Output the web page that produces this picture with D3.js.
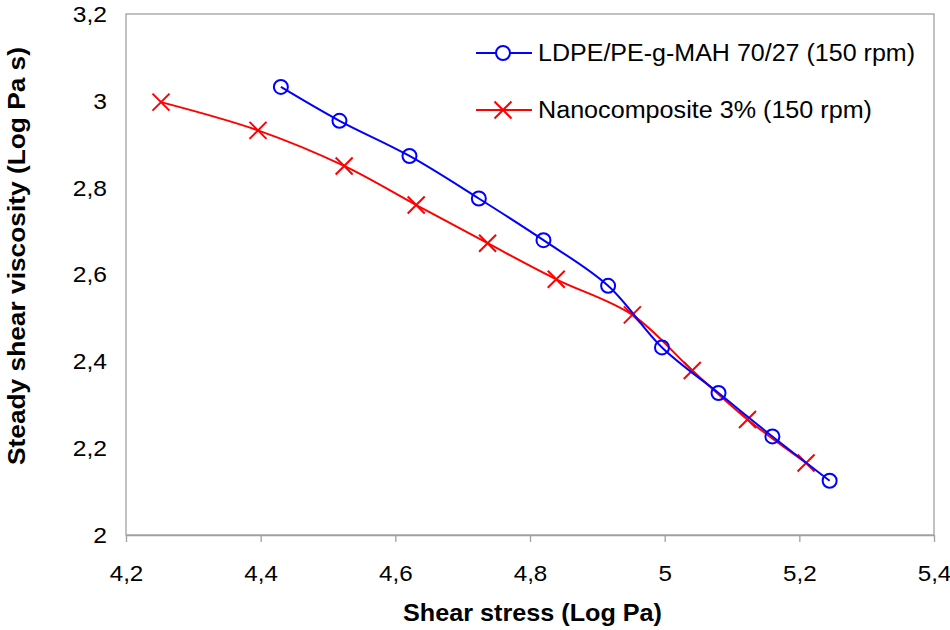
<!DOCTYPE html>
<html>
<head>
<meta charset="utf-8">
<script src="https://cdn.jsdelivr.net/npm/d3@7"></script>
<style>
  html, body { margin: 0; padding: 0; background: #fff; }
  svg { display: block; font-family: Arial, "Liberation Sans", sans-serif; }
</style>
</head>
<body>
<svg id="chart" width="950" height="630"></svg>
<script>
// ---- data ----
const seriesNames = ["LDPE/PE-g-MAH 70/27 (150 rpm)", "Nanocomposite 3% (150 rpm)"];
const blueX = [4.430, 4.517, 4.621, 4.724, 4.820, 4.916, 4.996, 5.080, 5.160, 5.245];
const blueY = [3.032, 2.954, 2.873, 2.775, 2.679, 2.574, 2.432, 2.327, 2.227, 2.125];
const redX  = [4.252, 4.396, 4.524, 4.631, 4.737, 4.839, 4.952, 5.041, 5.123, 5.210];
const redY  = [2.997, 2.932, 2.850, 2.760, 2.672, 2.589, 2.507, 2.379, 2.266, 2.166];
const xTicks = [4.2, 4.4, 4.6, 4.8, 5.0, 5.2, 5.4];
const yTicks = [2.0, 2.2, 2.4, 2.6, 2.8, 3.0, 3.2];
const xTitle = "Shear stress (Log Pa)";
const yTitle = "Steady shear viscosity (Log Pa s)";

const fmt = v => {
  let s = (Math.round(v * 10) / 10).toString();
  return s.replace(".", ",");
};

const svg = d3.select("#chart");
const L = 126, R = 934, T = 14, B = 535;
const x = d3.scaleLinear().domain([4.2, 5.4]).range([L, R]);
const y = d3.scaleLinear().domain([2.0, 3.2]).range([B, T]);
const axisColor = "#a0a0a0";

// frame
svg.append("rect").attr("x", L).attr("y", T).attr("width", R - L).attr("height", B - T)
  .attr("fill", "none").attr("stroke", axisColor).attr("stroke-width", 1.3);

// x axis ticks
const xa = svg.append("g").attr("transform", `translate(0,${B})`)
  .call(d3.axisBottom(x).tickValues(xTicks).tickSize(7).tickSizeOuter(0).tickFormat(fmt).tickPadding(23));
xa.select(".domain").attr("stroke", axisColor).attr("stroke-width", 1.3);
xa.selectAll(".tick line").attr("stroke", axisColor).attr("stroke-width", 1.3);
xa.selectAll(".tick text").attr("font-size", 22).attr("fill", "#000")
  .attr("font-family", "Arial, 'Liberation Sans', sans-serif")
  .attr("transform", "scale(1.1,1)");

// y tick labels (no tick marks)
svg.append("g").selectAll("g").data(yTicks).join("g")
  .attr("transform", d => `translate(107,${y(d)}) scale(1.12,1)`)
  .append("text")
  .attr("text-anchor", "end").attr("dy", "0.36em")
  .attr("font-size", 22).attr("fill", "#000")
  .text(fmt);

// axis titles
svg.append("text").attr("x", 532.5).attr("y", 621)
  .attr("text-anchor", "middle").attr("font-size", 23).attr("font-weight", "bold")
  .attr("textLength", 259).attr("lengthAdjust", "spacingAndGlyphs")
  .text(xTitle);
svg.append("text").attr("transform", "translate(25,256) rotate(-90)")
  .attr("text-anchor", "middle").attr("font-size", 23).attr("font-weight", "bold")
  .attr("textLength", 418).attr("lengthAdjust", "spacingAndGlyphs")
  .text(yTitle);

const curve = d3.curveCatmullRom.alpha(0.5);
const line = d3.line().x(d => x(d[0])).y(d => y(d[1])).curve(curve);

const blue = blueX.map((v, i) => [v, blueY[i]]);
const red = redX.map((v, i) => [v, redY[i]]);

const xMark = (g, s) => {
  g.append("path")
    .attr("d", `M${-s},${-s}L${s},${s}M${-s},${s}L${s},${-s}`)
    .attr("stroke", "#ff0000").attr("stroke-width", 2).attr("fill", "none");
};

// red series
svg.append("path").datum(red).attr("d", line)
  .attr("fill", "none").attr("stroke", "#ff0000").attr("stroke-width", 2);
svg.append("g").selectAll("g").data(red).join("g")
  .attr("transform", d => `translate(${x(d[0])},${y(d[1])})`)
  .each(function() { xMark(d3.select(this), 8.5); });

// blue series
svg.append("path").datum(blue).attr("d", line)
  .attr("fill", "none").attr("stroke", "#0000ff").attr("stroke-width", 2);
svg.append("g").selectAll("circle").data(blue).join("circle")
  .attr("cx", d => x(d[0])).attr("cy", d => y(d[1])).attr("r", 7)
  .attr("fill", "none").attr("stroke", "#0000ff").attr("stroke-width", 2);

// legend
const lg = svg.append("g");
lg.append("line").attr("x1", 476).attr("x2", 532).attr("y1", 53).attr("y2", 53)
  .attr("stroke", "#0000ff").attr("stroke-width", 2);
lg.append("circle").attr("cx", 503).attr("cy", 53).attr("r", 7)
  .attr("fill", "#fff").attr("stroke", "#0000ff").attr("stroke-width", 2);
lg.append("text").attr("x", 538).attr("y", 61).attr("font-size", 23)
  .attr("textLength", 377).attr("lengthAdjust", "spacingAndGlyphs")
  .text(seriesNames[0]);
lg.append("line").attr("x1", 476).attr("x2", 532).attr("y1", 110).attr("y2", 110)
  .attr("stroke", "#ff0000").attr("stroke-width", 2);
const lx = lg.append("g").attr("transform", "translate(503,110)");
xMark(lx, 8.5);
lg.append("text").attr("x", 538).attr("y", 118).attr("font-size", 23)
  .attr("textLength", 334).attr("lengthAdjust", "spacingAndGlyphs")
  .text(seriesNames[1]);
</script>
</body>
</html>
